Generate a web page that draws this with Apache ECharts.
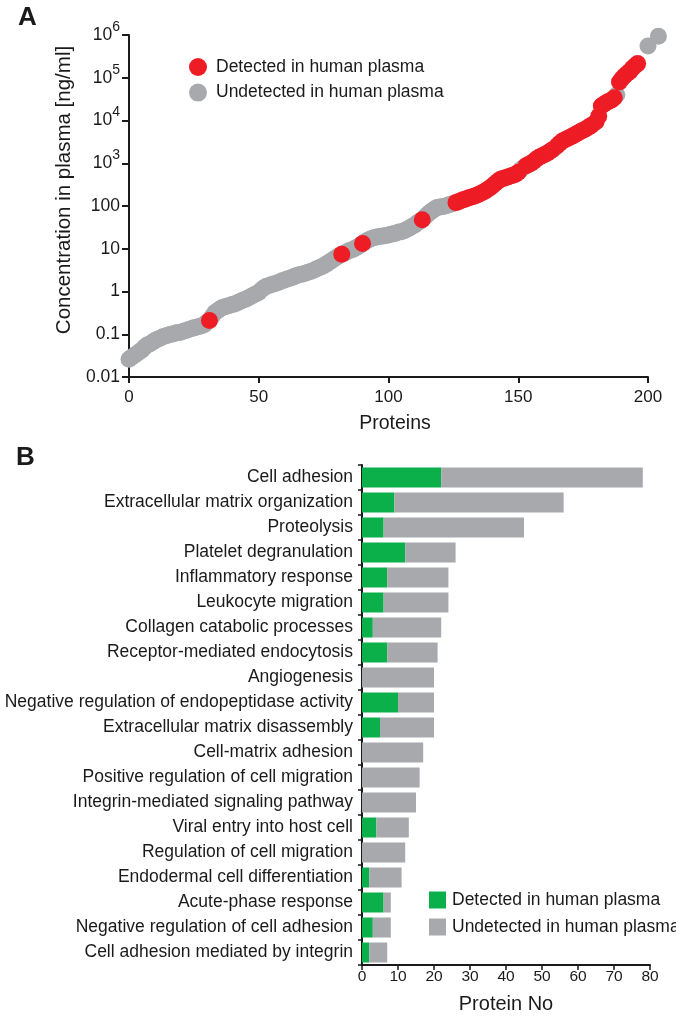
<!DOCTYPE html>
<html>
<head>
<meta charset="utf-8">
<script src="https://cdn.jsdelivr.net/npm/echarts@6/dist/echarts.min.js"></script>
<style>
  html, body { margin: 0; padding: 0; background: #ffffff; }
  #chart { width: 676px; height: 1019px; }
</style>
</head>
<body>
<div id="chart"></div>
<script>
// ---------- Panel A data: plasma concentration (ng/ml) by protein rank (index = rank) ----------
const concentration = [
  0.026, 0.029, 0.032, 0.035, 0.039, 0.043, 0.050, 0.056, 0.059, 0.065,
  0.071, 0.076, 0.081, 0.087, 0.091, 0.095, 0.100, 0.102, 0.107, 0.110,
  0.112, 0.117, 0.123, 0.129, 0.135, 0.141, 0.145, 0.151, 0.158, 0.166,
  0.19, 0.21, 0.26, 0.32, 0.35, 0.39, 0.42, 0.44, 0.46, 0.48,
  0.50, 0.52, 0.55, 0.59, 0.63, 0.66, 0.71, 0.76, 0.83, 0.89,
  0.95, 1.10, 1.23, 1.32, 1.38, 1.45, 1.51, 1.58, 1.66, 1.78,
  1.86, 1.95, 2.04, 2.14, 2.29, 2.40, 2.51, 2.57, 2.69, 2.82,
  2.95, 3.09, 3.31, 3.55, 3.72, 3.98, 4.37, 4.79, 5.25, 5.75,
  6.31, 6.92, 7.4, 7.9, 8.5, 9.1, 9.5, 10.2, 11.0, 12.0,
  13.2, 14.5, 15.8, 17.0, 17.8, 18.6, 19.1, 19.5, 20.0, 20.4,
  20.9, 21.9, 22.4, 23.4, 24.5, 25.1, 26.3, 28.2, 30.2, 33.1,
  35.5, 39.8, 43.7, 47.9, 55, 63, 71, 79, 87, 93,
  95, 98, 100, 105, 110, 115, 120, 126, 135, 141,
  148, 155, 162, 170, 178, 191, 204, 219, 240, 263,
  295, 331, 372, 417, 437, 457, 479, 501, 525, 550,
  617, 708, 794, 871, 933, 1000, 1120, 1260, 1380, 1480,
  1580, 1700, 1860, 2040, 2240, 2570, 2950, 3310, 3550, 3800,
  4070, 4370, 4680, 5130, 5500, 5890, 6310, 6920, 7590, 8320,
  9330, 12600, 21900, 24000, 26300, 28200, 30200, 33900, 39800, 79400,
  95500, 112000, 126000, 141000, 166000, 191000, 214000, null, null, null,
  550000, null, null, null, 933000
];
// ranks of proteins detected in human plasma (red)
const detectedRanks = [
  31, 82, 90, 113,
  126, 127, 128, 129, 130, 131, 132, 133, 134, 135, 136, 137, 138, 139, 140,
  141, 142, 143, 144, 145, 146, 147, 148, 149, 150,
  153, 154, 155, 156, 157, 158, 159, 160, 161, 162, 163,
  165, 166, 167, 168, 169, 170, 171, 172, 173, 174, 175, 176, 177, 178,
  180, 181, 182, 183, 184, 185, 186, 187,
  189, 190, 191, 192, 193, 194, 195, 196
];
const xTickValues = [0, 50, 100, 150, 200];
const yTickLabels = ['0.01', '0.1', '1', '10', '100', '{b|10}{s|3}', '{b|10}{s|4}', '{b|10}{s|5}', '{b|10}{s|6}'];

// ---------- Panel B data: GO biological processes ----------
const categories = [
  'Cell adhesion',
  'Extracellular matrix organization',
  'Proteolysis',
  'Platelet degranulation',
  'Inflammatory response',
  'Leukocyte migration',
  'Collagen catabolic processes',
  'Receptor-mediated endocytosis',
  'Angiogenesis',
  'Negative regulation of endopeptidase activity',
  'Extracellular matrix disassembly',
  'Cell-matrix adhesion',
  'Positive regulation of cell migration',
  'Integrin-mediated signaling pathway',
  'Viral entry into host cell',
  'Regulation of cell migration',
  'Endodermal cell differentiation',
  'Acute-phase response',
  'Negative regulation of cell adhesion',
  'Cell adhesion mediated by integrin'
];
const detectedCounts   = [22, 9, 6, 12, 7, 6, 3, 7, 0, 10, 5, 0, 0, 0, 4, 0, 2, 6, 3, 2];
const undetectedCounts = [56, 47, 39, 14, 17, 18, 19, 14, 20, 10, 15, 17, 16, 15, 9, 12, 9, 2, 5, 5];

const NAME_DET = 'Detected in human plasma';
const NAME_UND = 'Undetected in human plasma';
const RED = '#EE1C25', GRAY = '#A7A9AC', GREEN = '#0BB04B', INK = '#1A1A1A';
const FONT = 'Liberation Sans, Arial, sans-serif';

const detSet = new Set(detectedRanks);
const redPts = [], grayPts = [];
concentration.forEach((v, i) => {
  if (v == null) return;
  (detSet.has(i) ? redPts : grayPts).push([i, v]);
});

const chart = echarts.init(document.getElementById('chart'), null, { renderer: 'canvas' });
chart.setOption({
  animation: false,
  backgroundColor: '#ffffff',
  textStyle: { fontFamily: FONT, color: INK },
  graphic: [
    { type: 'text', left: 18, top: 5, style: { text: 'A', font: 'bold 26px ' + FONT, fill: INK } },
    { type: 'text', left: 16, top: 445, style: { text: 'B', font: 'bold 26px ' + FONT, fill: INK } }
  ],
  legend: [
    {
      orient: 'vertical', left: 184, top: 53, itemWidth: 18, itemHeight: 18, itemGap: 7.6,
      selectedMode: false,
      textStyle: { fontSize: 17.5, color: INK, fontFamily: FONT, lineHeight: 18, padding: [0, 0, 0, 4] },
      data: [
        { name: NAME_DET, icon: 'circle', itemStyle: { color: RED } },
        { name: NAME_UND, icon: 'circle', itemStyle: { color: GRAY } }
      ]
    },
    {
      orient: 'vertical', left: 424, top: 886, itemWidth: 17, itemHeight: 17, itemGap: 9,
      selectedMode: false,
      textStyle: { fontSize: 17.5, color: INK, fontFamily: FONT, lineHeight: 17, padding: [0, 0, 0, 1] },
      data: [
        { name: NAME_DET, icon: 'rect', itemStyle: { color: GREEN } },
        { name: NAME_UND, icon: 'rect', itemStyle: { color: GRAY } }
      ]
    }
  ],
  grid: [
    { left: 129, top: 35, width: 519, height: 342 },
    { left: 362, top: 465, width: 288, height: 500 }
  ],
  xAxis: [
    {
      gridIndex: 0, type: 'value', min: 0, max: 200, interval: 50,
      name: 'Proteins', nameLocation: 'middle', nameGap: 37,
      nameTextStyle: { fontSize: 19.5, color: INK, fontFamily: FONT, padding: [0, 0, 0, 13] },
      axisLine: { show: true, onZero: false, lineStyle: { color: INK, width: 2 } },
      axisTick: { show: true, length: 6, lineStyle: { color: INK, width: 2 } },
      axisLabel: { fontSize: 17, color: INK, margin: 12, fontFamily: FONT,
        formatter: v => (xTickValues.indexOf(v) >= 0 ? String(v) : '') },
      splitLine: { show: false }
    },
    {
      gridIndex: 1, type: 'value', min: 0, max: 80, interval: 10,
      name: 'Protein No', nameLocation: 'middle', nameGap: 29,
      nameTextStyle: { fontSize: 20, color: INK, fontFamily: FONT },
      axisLine: { show: true, onZero: false, lineStyle: { color: INK, width: 2 } },
      axisTick: { show: true, length: 5, lineStyle: { color: INK, width: 1.5 } },
      axisLabel: { fontSize: 15.5, color: INK, margin: 4, fontFamily: FONT },
      splitLine: { show: false }
    }
  ],
  yAxis: [
    {
      gridIndex: 0, type: 'log', logBase: 10, min: 0.01, max: 1000000, splitNumber: 8,
      name: 'Concentration in plasma [ng/ml]', nameLocation: 'middle', nameGap: 50, nameRotate: 90,
      nameTextStyle: { fontSize: 20.5, color: INK, fontFamily: FONT, padding: [0, 0, 0, 32] },
      axisLine: { show: true, onZero: false, lineStyle: { color: INK, width: 2 } },
      axisTick: { show: true, length: 7, lineStyle: { color: INK, width: 2 } },
      axisLabel: {
        fontSize: 17.5, color: INK, margin: 9, fontFamily: FONT,
        formatter: v => yTickLabels[Math.round(Math.log10(v)) + 2],
        rich: {
          b: { fontSize: 17.5, lineHeight: 30, color: INK, fontFamily: FONT },
          s: { fontSize: 14, lineHeight: 14, verticalAlign: 'top', color: INK, fontFamily: FONT }
        }
      },
      splitLine: { show: false }
    },
    {
      gridIndex: 1, type: 'category', inverse: true, data: categories,
      axisLine: { show: true, lineStyle: { color: INK, width: 2 } },
      axisTick: { show: true, length: 4, lineStyle: { color: INK, width: 1.5 } },
      axisLabel: { fontSize: 17.5, color: INK, margin: 9, fontFamily: FONT, interval: 0 },
      splitLine: { show: false }
    }
  ],
  series: [
    {
      name: NAME_UND, type: 'scatter', xAxisIndex: 0, yAxisIndex: 0, clip: false,
      symbol: 'circle', symbolSize: 17, itemStyle: { color: GRAY, opacity: 1 },
      data: grayPts, z: 2
    },
    {
      name: NAME_DET, type: 'scatter', xAxisIndex: 0, yAxisIndex: 0, clip: false,
      symbol: 'circle', symbolSize: 17, itemStyle: { color: RED, opacity: 1 },
      data: redPts, z: 3
    },
    {
      name: NAME_DET, type: 'bar', stack: 'go', xAxisIndex: 1, yAxisIndex: 1,
      barWidth: 20, itemStyle: { color: GREEN }, data: detectedCounts
    },
    {
      name: NAME_UND, type: 'bar', stack: 'go', xAxisIndex: 1, yAxisIndex: 1,
      barWidth: 20, itemStyle: { color: GRAY }, data: undetectedCounts
    }
  ]
});
</script>
</body>
</html>
